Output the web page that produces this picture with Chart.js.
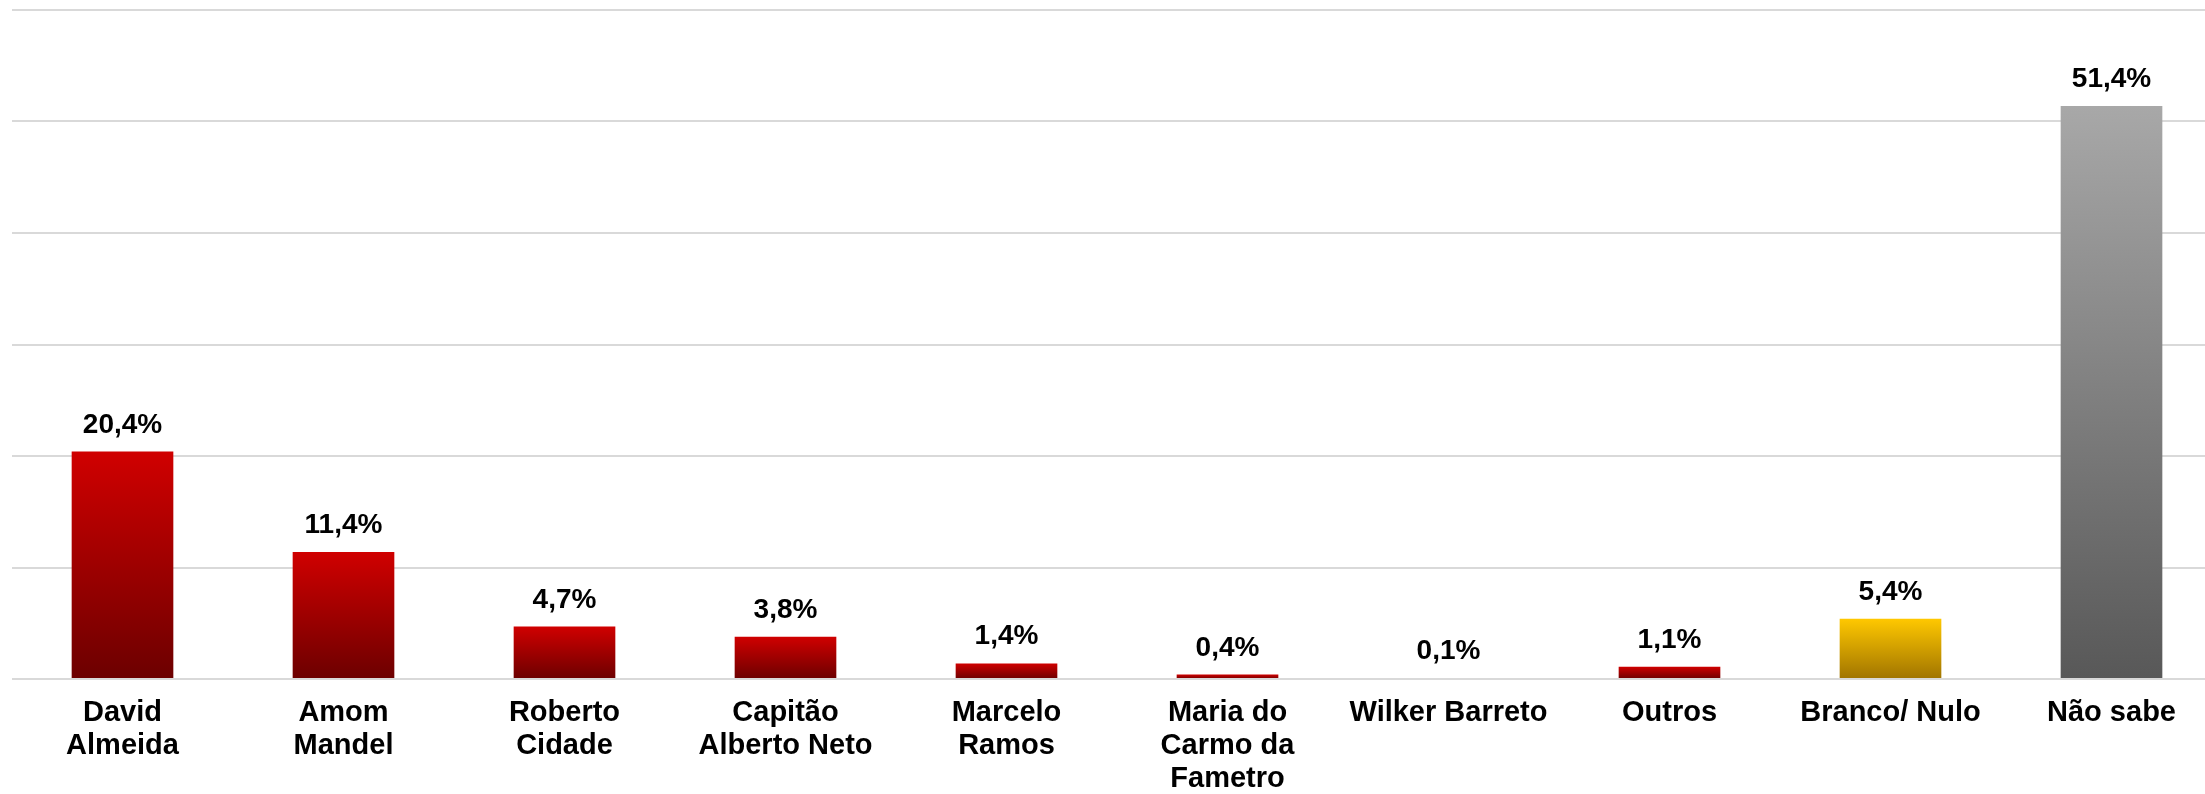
<!DOCTYPE html>
<html>
<head>
<meta charset="utf-8">
<script src="https://cdn.jsdelivr.net/npm/chart.js@4.4.0/dist/chart.umd.min.js"></script>
<style>
  html, body { margin: 0; padding: 0; background: #ffffff; overflow: hidden; }
  #wrap { width: 2222px; height: 794px; position: relative; }
</style>
</head>
<body>
<div id="wrap"><canvas id="c" width="2222" height="794"></canvas></div>
<script>
const categories = [
  ["David", "Almeida"],
  ["Amom", "Mandel"],
  ["Roberto", "Cidade"],
  ["Capitão", "Alberto Neto"],
  ["Marcelo", "Ramos"],
  ["Maria do", "Carmo da", "Fametro"],
  ["Wilker Barreto"],
  ["Outros"],
  ["Branco/ Nulo"],
  ["Não sabe"]
];
const values = [20.4, 11.4, 4.7, 3.8, 1.4, 0.4, 0.1, 1.1, 5.4, 51.4];
const colorGroups = ["red", "red", "red", "red", "red", "red", "red", "red", "gold", "gray"];
const yTicks = [0, 10, 20, 30, 40, 50, 60];

const palettes = {
  red:  ["#d00000", "#6c0000"],
  gold: ["#ffc800", "#a07400"],
  gray: ["#a8a8a8", "#585858"]
};

function barFill(ctx) {
  const chart = ctx.chart;
  const pal = palettes[colorGroups[ctx.dataIndex]];
  const ys = chart.scales.y;
  if (!ys || !chart.chartArea) return pal[0];
  const top = ys.getPixelForValue(values[ctx.dataIndex]);
  const bottom = ys.getPixelForValue(0);
  if (!isFinite(top) || !isFinite(bottom) || bottom - top < 1) return pal[0];
  const g = chart.ctx.createLinearGradient(0, top, 0, bottom);
  g.addColorStop(0, pal[0]);
  g.addColorStop(1, pal[1]);
  return g;
}

const valueLabels = {
  id: "valueLabels",
  afterDatasetsDraw(chart) {
    const ctx = chart.ctx;
    const meta = chart.getDatasetMeta(0);
    ctx.save();
    ctx.font = "bold 28px 'Liberation Sans', Arial, sans-serif";
    ctx.fillStyle = "#000000";
    ctx.textAlign = "center";
    ctx.textBaseline = "alphabetic";
    meta.data.forEach((bar, i) => {
      const txt = values[i].toFixed(1).replace(".", ",") + "%";
      ctx.fillText(txt, bar.x, bar.y - 19);
    });
    ctx.restore();
  }
};

new Chart(document.getElementById("c"), {
  type: "bar",
  data: {
    labels: categories,
    datasets: [{
      data: values,
      backgroundColor: barFill,
      borderWidth: 0,
      barPercentage: 0.46,
      categoryPercentage: 1.0
    }]
  },
  options: {
    responsive: false,
    animation: false,
    devicePixelRatio: 1,
    layout: { padding: { left: 12, right: 0, top: 10, bottom: 0 } },
    plugins: {
      legend: { display: false },
      tooltip: { enabled: false }
    },
    scales: {
      x: {
        grid: { display: false, drawTicks: false },
        border: { display: false },
        afterFit(axis) { axis.height = 115; },
        ticks: {
          color: "#000000",
          font: { family: "'Liberation Sans', Arial, sans-serif", size: 29, weight: "bold", lineHeight: 1.14 },
          padding: 17,
          maxRotation: 0,
          autoSkip: false
        }
      },
      y: {
        min: 0,
        max: 60,
        afterBuildTicks(axis) { axis.ticks = yTicks.map(v => ({ value: v })); },
        grid: { color: "#d9d9d9", lineWidth: 2, drawTicks: false },
        border: { display: false },
        ticks: { display: false }
      }
    }
  },
  plugins: [valueLabels]
});
</script>
</body>
</html>
